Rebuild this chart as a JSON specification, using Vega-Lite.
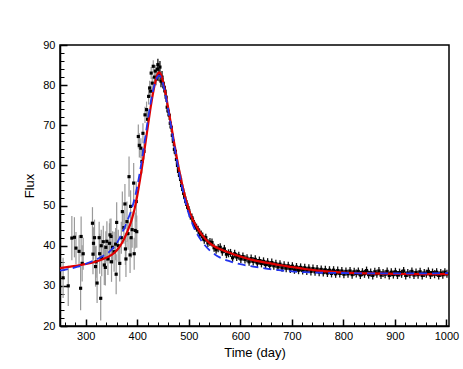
{
  "$schema": "https://vega.github.io/schema/vega-lite/v6.json",
  "width": 389,
  "height": 281,
  "autosize": "none",
  "padding": {"left": 60, "top": 45, "right": 14, "bottom": 43},
  "config": {
    "view": {"stroke": "black", "strokeWidth": 1.5},
    "font": "Liberation Sans",
    "axis": {"grid": false, "domainColor": "black", "domainWidth": 1.5, "tickColor": "black", "labelFontSize": 11, "labelColor": "black", "titleFontSize": 13, "titleFontWeight": "normal", "titleColor": "black", "labelFont": "Liberation Sans", "titleFont": "Liberation Sans", "labelOverlap": false}
  },
  "datasets": {
    "obs": [
      {"t":256,"f":32.0,"e":5},{"t":266,"f":30.0,"e":5},{"t":273,"f":41.9,"e":5.5},{"t":278,"f":42.1,"e":5},{"t":281,"f":39.4,"e":4},{"t":287,"f":38.6,"e":4},{"t":290,"f":29.4,"e":5.5},{"t":291,"f":42.3,"e":5},{"t":293,"f":35.6,"e":4.5},{"t":295,"f":38.0,"e":4},
      {"t":313,"f":45.6,"e":4},{"t":314,"f":37.9,"e":5},{"t":315,"f":40.6,"e":4},{"t":317,"f":42.0,"e":4.5},{"t":319,"f":34.8,"e":5},{"t":320,"f":36.0,"e":4},{"t":322,"f":30.7,"e":5},{"t":326,"f":42.0,"e":4},{"t":327,"f":38.0,"e":5},{"t":329,"f":26.9,"e":5.5},
      {"t":330,"f":40.0,"e":4},{"t":331,"f":36.9,"e":4.5},{"t":334,"f":41.0,"e":4},{"t":336,"f":35.2,"e":5},{"t":338,"f":34.6,"e":4.5},{"t":339,"f":39.6,"e":4},{"t":341,"f":41.1,"e":5},{"t":343,"f":36.7,"e":4},{"t":346,"f":40.6,"e":5},{"t":347,"f":42.7,"e":4},
      {"t":349,"f":42.3,"e":4.5},{"t":350,"f":36.0,"e":5},{"t":352,"f":39.6,"e":4},{"t":355,"f":38.5,"e":5},{"t":358,"f":40.4,"e":4},{"t":359,"f":32.9,"e":5},{"t":360,"f":45.8,"e":5},{"t":363,"f":40.0,"e":4},{"t":366,"f":35.6,"e":4.5},{"t":369,"f":42.0,"e":4},
      {"t":371,"f":48.5,"e":5},{"t":374,"f":44.5,"e":4},{"t":376,"f":50.4,"e":5},{"t":377,"f":39.2,"e":4},{"t":378,"f":36.7,"e":4.5},{"t":380,"f":46.0,"e":5},{"t":382,"f":43.0,"e":4},{"t":384,"f":57.2,"e":5},{"t":386,"f":37.7,"e":4.5},{"t":387,"f":49.8,"e":4},
      {"t":388,"f":42.0,"e":5},{"t":390,"f":44.0,"e":4.5},{"t":393,"f":55.6,"e":5},{"t":394,"f":38.0,"e":4},{"t":396,"f":43.8,"e":4.5},{"t":398,"f":51.0,"e":5},{"t":399,"f":43.5,"e":4},
      {"t":402,"f":67.2,"e":3},{"t":404,"f":65.0,"e":3},{"t":407,"f":64.3,"e":2.5},{"t":409,"f":61.0,"e":3},{"t":411,"f":68.0,"e":2.5},{"t":413,"f":63.5,"e":2},{"t":415,"f":72.6,"e":2},{"t":418,"f":73.9,"e":2},{"t":420,"f":71.5,"e":2},{"t":422,"f":77.2,"e":2},
      {"t":424,"f":79.3,"e":1.8},{"t":426,"f":78.5,"e":1.5},{"t":427,"f":83.0,"e":1.5},{"t":429,"f":80.5,"e":1.5},{"t":431,"f":84.7,"e":1.5},{"t":433,"f":82.0,"e":1.5},{"t":435,"f":83.5,"e":1.5},{"t":437,"f":81.5,"e":1.5},{"t":439,"f":84.0,"e":1.5},{"t":440,"f":85.1,"e":1.5},
      {"t":442,"f":82.5,"e":1.5},{"t":444,"f":84.5,"e":1.5},{"t":446,"f":81.0,"e":1.5},{"t":448,"f":82.0,"e":1.5},{"t":450,"f":80.5,"e":1.2},{"t":452,"f":79.5,"e":1.2},{"t":454,"f":78.5,"e":1.2},{"t":456,"f":77.0,"e":1.2},{"t":458,"f":74.5,"e":1.2},{"t":460,"f":73.5,"e":1.2},
      {"t":462,"f":72.5,"e":1.2},{"t":464,"f":70.5,"e":1.2},{"t":466,"f":69.5,"e":1.2},{"t":468,"f":67.5,"e":1.2},{"t":470,"f":66.0,"e":1.2},{"t":472,"f":64.0,"e":1.2},{"t":474,"f":63.5,"e":1.2},{"t":476,"f":61.5,"e":1.2},{"t":478,"f":60.0,"e":1.2},{"t":480,"f":58.5,"e":1.2},
      {"t":482,"f":57.5,"e":1},{"t":484,"f":56.5,"e":1},{"t":486,"f":55.0,"e":1},{"t":488,"f":54.0,"e":1},{"t":490,"f":53.0,"e":1},{"t":492,"f":52.0,"e":1},{"t":494,"f":51.0,"e":1},{"t":496,"f":50.3,"e":1},{"t":498,"f":49.5,"e":1},{"t":500,"f":48.8,"e":1},
      {"t":503,"f":47.5,"e":1},{"t":506,"f":47.0,"e":1},{"t":509,"f":46.0,"e":1},{"t":512,"f":45.0,"e":1},{"t":515,"f":44.5,"e":1},{"t":518,"f":44.0,"e":1},{"t":521,"f":43.2,"e":1},{"t":524,"f":42.8,"e":1},{"t":527,"f":42.3,"e":1},{"t":530,"f":41.5,"e":1},
      {"t":533,"f":42.0,"e":1},{"t":537,"f":40.7,"e":1},{"t":541,"f":40.9,"e":1},{"t":545,"f":40.8,"e":1},{"t":549,"f":39.5,"e":1},{"t":553,"f":39.0,"e":1},{"t":557,"f":39.4,"e":1},{"t":561,"f":39.6,"e":1},{"t":565,"f":38.5,"e":1},{"t":569,"f":39.2,"e":1},
      {"t":573,"f":37.9,"e":1},{"t":577,"f":38.1,"e":1},{"t":581,"f":38.2,"e":1},{"t":585,"f":37.0,"e":1},{"t":589,"f":38.0,"e":1},{"t":593,"f":37.2,"e":1},{"t":597,"f":37.5,"e":1},{"t":601,"f":36.7,"e":1},{"t":605,"f":37.3,"e":1},{"t":609,"f":36.6,"e":1},
      {"t":613,"f":36.9,"e":1},{"t":617,"f":36.0,"e":1},{"t":621,"f":36.8,"e":1},{"t":625,"f":36.1,"e":1},{"t":629,"f":36.6,"e":1},{"t":633,"f":35.7,"e":1},{"t":637,"f":36.3,"e":1},{"t":641,"f":35.6,"e":1},{"t":645,"f":36.1,"e":1},{"t":649,"f":35.3,"e":1},
      {"t":653,"f":35.9,"e":1},{"t":657,"f":35.1,"e":1},{"t":661,"f":35.8,"e":1},{"t":665,"f":35.0,"e":1},{"t":669,"f":35.5,"e":1},{"t":673,"f":34.7,"e":1},{"t":677,"f":35.4,"e":1},{"t":681,"f":34.5,"e":1},{"t":685,"f":35.1,"e":1},{"t":689,"f":34.4,"e":1},
      {"t":693,"f":35.0,"e":1},{"t":697,"f":34.2,"e":1},{"t":701,"f":34.9,"e":1},{"t":705,"f":34.0,"e":1},{"t":709,"f":34.7,"e":1},{"t":713,"f":33.9,"e":1},{"t":717,"f":34.6,"e":1},{"t":721,"f":33.8,"e":1},{"t":725,"f":34.5,"e":1},{"t":729,"f":33.7,"e":1},
      {"t":733,"f":34.4,"e":1},{"t":737,"f":33.6,"e":1},{"t":741,"f":34.3,"e":1},{"t":745,"f":33.5,"e":1},{"t":749,"f":34.2,"e":1},{"t":753,"f":33.4,"e":1},{"t":757,"f":34.1,"e":1},{"t":761,"f":33.3,"e":1},{"t":765,"f":34.0,"e":1},{"t":769,"f":33.2,"e":1},
      {"t":773,"f":33.9,"e":1},{"t":777,"f":33.1,"e":1},{"t":781,"f":33.9,"e":1},{"t":785,"f":33.0,"e":1},{"t":789,"f":33.8,"e":1},{"t":793,"f":33.1,"e":1},{"t":797,"f":33.7,"e":1},{"t":801,"f":32.9,"e":1},{"t":805,"f":33.6,"e":1},{"t":809,"f":33.0,"e":1},
      {"t":813,"f":33.7,"e":1},{"t":817,"f":32.8,"e":1},{"t":821,"f":33.5,"e":1},{"t":825,"f":33.1,"e":1},{"t":829,"f":33.6,"e":1},{"t":833,"f":32.7,"e":1},{"t":837,"f":33.4,"e":1},{"t":841,"f":33.0,"e":1},{"t":845,"f":33.8,"e":1},{"t":849,"f":32.8,"e":1},
      {"t":853,"f":33.3,"e":1},{"t":857,"f":32.6,"e":1},{"t":861,"f":33.5,"e":1},{"t":865,"f":33.0,"e":1},{"t":869,"f":33.7,"e":1},{"t":873,"f":32.7,"e":1},{"t":877,"f":33.2,"e":1},{"t":881,"f":32.9,"e":1},{"t":885,"f":33.6,"e":1},{"t":889,"f":32.6,"e":1},
      {"t":893,"f":33.4,"e":1},{"t":897,"f":32.8,"e":1},{"t":901,"f":33.5,"e":1},{"t":905,"f":32.7,"e":1},{"t":909,"f":33.3,"e":1},{"t":913,"f":33.0,"e":1},{"t":917,"f":33.7,"e":1},{"t":921,"f":32.6,"e":1},{"t":925,"f":33.2,"e":1},{"t":929,"f":32.9,"e":1},
      {"t":933,"f":33.6,"e":1},{"t":937,"f":32.7,"e":1},{"t":941,"f":33.3,"e":1},{"t":945,"f":32.8,"e":1},{"t":949,"f":33.5,"e":1},{"t":953,"f":32.6,"e":1},{"t":957,"f":33.2,"e":1},{"t":961,"f":33.0,"e":1},{"t":965,"f":33.6,"e":1},{"t":969,"f":32.7,"e":1},
      {"t":973,"f":33.3,"e":1},{"t":977,"f":32.9,"e":1},{"t":981,"f":33.4,"e":1},{"t":985,"f":32.6,"e":1},{"t":989,"f":33.2,"e":1},{"t":993,"f":32.8,"e":1},{"t":997,"f":33.4,"e":1},{"t":1001,"f":33.0,"e":1}
    ],
    "fit": [
      {"t":250,"red":34.4,"blue":33.8},{"t":270,"red":34.8,"blue":34.3},{"t":290,"red":35.2,"blue":35.0},{"t":310,"red":35.7,"blue":36.0},{"t":330,"red":36.5,"blue":37.2},
      {"t":350,"red":37.7,"blue":39.0},{"t":360,"red":38.8,"blue":40.6},{"t":370,"red":40.6,"blue":43.0},{"t":380,"red":43.3,"blue":46.0},{"t":390,"red":46.8,"blue":49.5},
      {"t":395,"red":49.3,"blue":51.9},{"t":400,"red":52.5,"blue":54.8},{"t":405,"red":56.2,"blue":58.3},{"t":410,"red":60.3,"blue":62.3},{"t":415,"red":64.8,"blue":66.6},
      {"t":420,"red":69.3,"blue":70.9},{"t":425,"red":73.7,"blue":74.9},{"t":430,"red":77.6,"blue":78.3},{"t":435,"red":80.8,"blue":80.8},{"t":440,"red":82.9,"blue":82.2},
      {"t":443,"red":83.2,"blue":82.4},{"t":446,"red":82.6,"blue":81.9},{"t":450,"red":80.8,"blue":80.3},{"t":455,"red":77.8,"blue":77.4},{"t":460,"red":74.3,"blue":73.9},
      {"t":465,"red":70.6,"blue":70.2},{"t":470,"red":66.8,"blue":66.3},{"t":475,"red":63.1,"blue":62.6},{"t":480,"red":59.6,"blue":59.0},{"t":485,"red":56.5,"blue":55.8},
      {"t":490,"red":53.6,"blue":52.8},{"t":495,"red":51.1,"blue":50.1},{"t":500,"red":49.0,"blue":47.9},{"t":505,"red":47.3,"blue":46.1},{"t":510,"red":45.9,"blue":44.5},
      {"t":520,"red":43.7,"blue":42.1},{"t":530,"red":42.0,"blue":40.3},{"t":540,"red":40.7,"blue":38.9},{"t":550,"red":39.8,"blue":37.9},{"t":560,"red":39.2,"blue":37.1},
      {"t":580,"red":38.2,"blue":36.1},{"t":600,"red":37.3,"blue":35.4},{"t":625,"red":36.4,"blue":34.8},{"t":650,"red":35.8,"blue":34.3},{"t":675,"red":35.2,"blue":33.9},
      {"t":700,"red":34.7,"blue":33.6},{"t":725,"red":34.2,"blue":33.4},{"t":750,"red":33.8,"blue":33.3},{"t":800,"red":33.3,"blue":33.2},{"t":850,"red":33.1,"blue":33.1},
      {"t":900,"red":33.0,"blue":33.1},{"t":950,"red":32.9,"blue":33.1},{"t":1003,"red":32.9,"blue":33.2}
    ]
  },
  "layer": [
    {
      "data": {"name": "obs"},
      "transform": [{"filter": "datum.t < 440"}],
      "mark": {"type": "errorbar", "color": "#999999", "thickness": 1.2},
      "encoding": {
        "x": {"field": "t", "type": "quantitative", "scale": {"domain": [250, 1005], "nice": false, "zero": false},
          "title": "Time (day)",
          "axis": {"values": [260,280,300,320,340,360,380,400,420,440,460,480,500,520,540,560,580,600,620,640,660,680,700,720,740,760,780,800,820,840,860,880,900,920,940,960,980,1000],
            "tickCount": 200,
            "labelExpr": "datum.value % 100 === 0 ? format(datum.value, 'd') : ''",
            "labelOverlap": false,
            "tickSize": {"condition": {"test": "datum.value % 100 === 0", "value": -7}, "value": -4},
            "tickWidth": {"condition": {"test": "datum.value % 100 === 0", "value": 1.5}, "value": 1},
            "labelPadding": 11, "titlePadding": 2, "labelFlush": false}},
        "y": {"field": "f", "type": "quantitative", "scale": {"domain": [20, 90], "nice": false, "zero": false},
          "title": "Flux",
          "axis": {"values": [20,22,24,26,28,30,32,34,36,38,40,42,44,46,48,50,52,54,56,58,60,62,64,66,68,70,72,74,76,78,80,82,84,86,88,90],
            "tickCount": 200,
            "labelExpr": "datum.value % 10 === 0 ? format(datum.value, 'd') : ''",
            "labelOverlap": false,
            "tickSize": {"condition": {"test": "datum.value % 10 === 0", "value": -7}, "value": -4},
            "tickWidth": {"condition": {"test": "datum.value % 10 === 0", "value": 1.5}, "value": 1},
            "labelPadding": 12, "titlePadding": 6, "labelFlush": false}},
        "yError": {"field": "e"}
      }
    },
    {
      "data": {"name": "obs"},
      "transform": [{"filter": "datum.t >= 440"}],
      "mark": {"type": "errorbar", "color": "#111111", "thickness": 1.3},
      "encoding": {
        "x": {"field": "t", "type": "quantitative", "title": "Time (day)"},
        "y": {"field": "f", "type": "quantitative", "title": "Flux"},
        "yError": {"field": "e"}
      }
    },
    {
      "data": {"name": "obs"},
      "mark": {"type": "point", "shape": "square", "filled": true, "color": "black", "size": 10, "opacity": 1},
      "encoding": {
        "x": {"field": "t", "type": "quantitative", "title": "Time (day)"},
        "y": {"field": "f", "type": "quantitative", "title": "Flux"}
      }
    },
    {
      "data": {"name": "fit"},
      "mark": {"type": "line", "color": "#e00000", "strokeWidth": 2.2, "interpolate": "monotone"},
      "encoding": {
        "x": {"field": "t", "type": "quantitative", "title": "Time (day)"},
        "y": {"field": "red", "type": "quantitative", "title": "Flux"}
      }
    },
    {
      "data": {"name": "fit"},
      "mark": {"type": "line", "color": "#2233ee", "strokeWidth": 1.8, "strokeDash": [8, 5], "interpolate": "monotone"},
      "encoding": {
        "x": {"field": "t", "type": "quantitative", "title": "Time (day)"},
        "y": {"field": "blue", "type": "quantitative", "title": "Flux"}
      }
    }
  ]
}
